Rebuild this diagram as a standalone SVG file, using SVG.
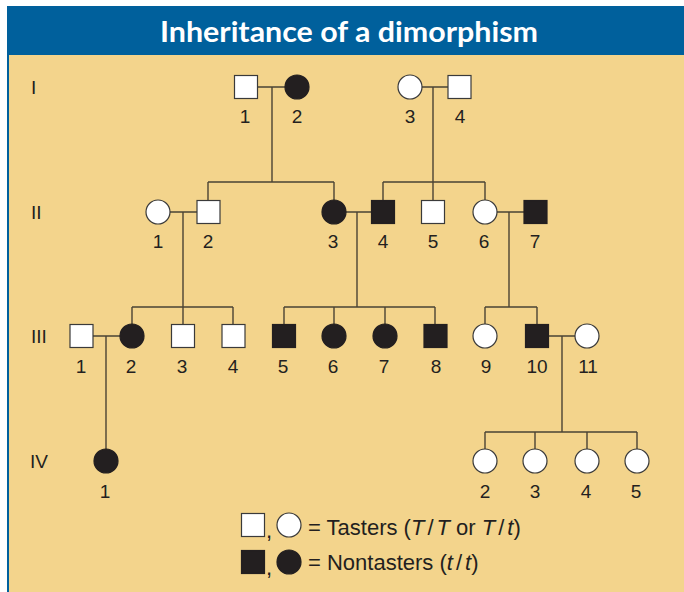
<svg xmlns="http://www.w3.org/2000/svg" width="684" height="592" viewBox="0 0 684 592">
<style>
.ln{stroke:#4a4334;stroke-width:1.4;fill:none}
.w{fill:#ffffff;stroke:#3a3a3a;stroke-width:1.2}
.b{fill:#231f20;stroke:#231f20;stroke-width:1.2}
.num{font-family:"Liberation Sans",Arial,sans-serif;font-size:19px;fill:#231f20;text-anchor:middle}
.gen{font-family:"Liberation Sans",Arial,sans-serif;font-size:19px;fill:#231f20}
.leg{font-family:"Liberation Sans",Arial,sans-serif;font-size:22px;fill:#231f20}
.title{font-family:Lato,"Open Sans",sans-serif;font-weight:bold;font-size:28px;fill:#ffffff;text-anchor:middle}
</style>
<defs>
<rect id="sq" x="-11.5" y="-11.5" width="23" height="23"/>
<circle id="ci" r="12"/>
</defs>
<rect x="0" y="0" width="684" height="592" fill="#ffffff"/>
<rect x="7" y="6" width="677" height="586" fill="#00609c"/>
<rect x="9" y="55" width="675" height="537" fill="#f3d48c"/>
<text class="title" x="349" y="42" textLength="378" lengthAdjust="spacingAndGlyphs">Inheritance of a dimorphism</text>

<g id="generations">
<text class="gen" x="31" y="94">I</text>
<text class="gen" x="31" y="219">II</text>
<text class="gen" x="31" y="343">III</text>
<text class="gen" x="30" y="468">IV</text>
</g>

<g id="connectors">
<path class="ln" d="M257.5,87H285 M272,87V182 M208,182H334 M208,182V200.5 M334,182V200"/>
<path class="ln" d="M422,87H448 M433,87V200.5 M383,182H485 M383,182V200.5 M485,182V200"/>
<path class="ln" d="M170,212H197 M183,212V324.5 M132,307H233 M132,307V324 M233,307V324.5"/>
<path class="ln" d="M346,212H371.5 M357,212V307 M284,307H435 M284,307V324.5 M334,307V324 M385,307V324 M435,307V324.5"/>
<path class="ln" d="M497,212H524 M509,212V307 M485,307H537 M485,307V324 M537,307V324.5"/>
<path class="ln" d="M93,336H120 M106,336V449"/>
<path class="ln" d="M548.5,336H575 M562,336V432 M485,432H637 M485,432V449 M535,432V449 M587,432V449 M637,432V449"/>
</g>

<g id="I-1"><use href="#sq" class="w" x="246" y="87"/><text class="num" x="245" y="123">1</text></g>
<g id="I-2"><use href="#ci" class="b" x="297" y="87"/><text class="num" x="297" y="123">2</text></g>
<g id="I-3"><use href="#ci" class="w" x="410" y="87"/><text class="num" x="410" y="123">3</text></g>
<g id="I-4"><use href="#sq" class="w" x="459.5" y="87"/><text class="num" x="460" y="123">4</text></g>

<g id="II-1"><use href="#ci" class="w" x="158" y="212"/><text class="num" x="158" y="248">1</text></g>
<g id="II-2"><use href="#sq" class="w" x="208.5" y="212"/><text class="num" x="208" y="248">2</text></g>
<g id="II-3"><use href="#ci" class="b" x="334" y="212"/><text class="num" x="333" y="248">3</text></g>
<g id="II-4"><use href="#sq" class="b" x="383" y="212"/><text class="num" x="383" y="248">4</text></g>
<g id="II-5"><use href="#sq" class="w" x="433" y="212"/><text class="num" x="433" y="248">5</text></g>
<g id="II-6"><use href="#ci" class="w" x="485" y="212"/><text class="num" x="484" y="248">6</text></g>
<g id="II-7"><use href="#sq" class="b" x="535.5" y="212"/><text class="num" x="535" y="248">7</text></g>

<g id="III-1"><use href="#sq" class="w" x="81.5" y="336"/><text class="num" x="81" y="373">1</text></g>
<g id="III-2"><use href="#ci" class="b" x="132" y="336"/><text class="num" x="131" y="373">2</text></g>
<g id="III-3"><use href="#sq" class="w" x="183" y="336"/><text class="num" x="182" y="373">3</text></g>
<g id="III-4"><use href="#sq" class="w" x="233.5" y="336"/><text class="num" x="233" y="373">4</text></g>
<g id="III-5"><use href="#sq" class="b" x="284" y="336"/><text class="num" x="283" y="373">5</text></g>
<g id="III-6"><use href="#ci" class="b" x="334" y="336"/><text class="num" x="333" y="373">6</text></g>
<g id="III-7"><use href="#ci" class="b" x="385" y="336"/><text class="num" x="384" y="373">7</text></g>
<g id="III-8"><use href="#sq" class="b" x="435.5" y="336"/><text class="num" x="436" y="373">8</text></g>
<g id="III-9"><use href="#ci" class="w" x="485" y="336"/><text class="num" x="486" y="373">9</text></g>
<g id="III-10"><use href="#sq" class="b" x="537" y="336"/><text class="num" x="537" y="373">10</text></g>
<g id="III-11"><use href="#ci" class="w" x="587" y="336"/><text class="num" x="588" y="373">11</text></g>

<g id="IV-1"><use href="#ci" class="b" x="106" y="461"/><text class="num" x="105" y="498">1</text></g>
<g id="IV-2"><use href="#ci" class="w" x="485" y="461"/><text class="num" x="485" y="498">2</text></g>
<g id="IV-3"><use href="#ci" class="w" x="535" y="461"/><text class="num" x="535" y="498">3</text></g>
<g id="IV-4"><use href="#ci" class="w" x="587" y="461"/><text class="num" x="586" y="498">4</text></g>
<g id="IV-5"><use href="#ci" class="w" x="637" y="461"/><text class="num" x="636" y="498">5</text></g>

<g id="legend">
<use href="#sq" class="w" x="253" y="525"/>
<text class="leg" x="266" y="538">,</text>
<use href="#ci" class="w" x="289" y="525"/>
<text class="leg" x="308" y="535">= Tasters (<tspan font-style="italic">T</tspan><tspan dx="3">/</tspan><tspan dx="3" font-style="italic">T</tspan> or <tspan font-style="italic">T</tspan><tspan dx="3">/</tspan><tspan dx="3" font-style="italic">t</tspan>)</text>
<use href="#sq" class="b" x="253" y="562"/>
<text class="leg" x="266" y="575">,</text>
<use href="#ci" class="b" x="289" y="562"/>
<text class="leg" x="308" y="570">= Nontasters (<tspan font-style="italic">t</tspan><tspan dx="3">/</tspan><tspan dx="3" font-style="italic">t</tspan>)</text>
</g>
</svg>
